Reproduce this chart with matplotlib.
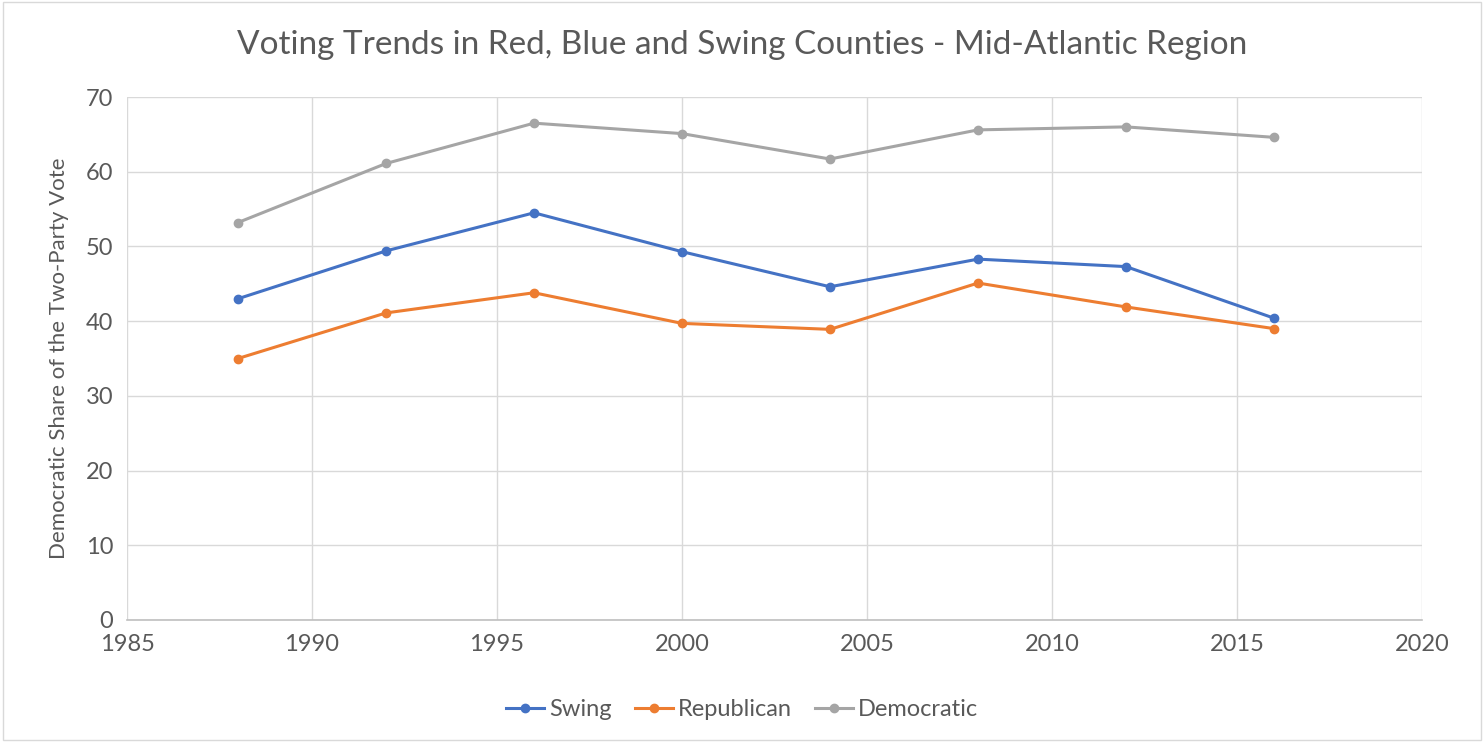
import matplotlib.pyplot as plt
from matplotlib.patches import Rectangle

# data
years = [1988, 1992, 1996, 2000, 2004, 2008, 2012, 2016]
swing = [43.0, 49.4, 54.5, 49.3, 44.6, 48.3, 47.3, 40.4]
republican = [35.0, 41.1, 43.8, 39.7, 38.9, 45.1, 41.9, 39.0]
democratic = [53.2, 61.1, 66.5, 65.1, 61.7, 65.6, 66.0, 64.6]

plt.rcParams['font.family'] = ['Lato', 'DejaVu Sans']

fig = plt.figure(figsize=(14.84, 7.42), dpi=100)
ax = fig.add_axes([127/1484, 1 - 620/742, (1422-127)/1484, (620-97)/742])

ax.plot(years, swing, color='#4472C4', lw=2.2, marker='o', ms=6, label='Swing')
ax.plot(years, republican, color='#ED7D31', lw=2.2, marker='o', ms=6, label='Republican')
ax.plot(years, democratic, color='#A5A5A5', lw=2.2, marker='o', ms=6, label='Democratic')

ax.set_xlim(1985, 2020)
ax.set_ylim(0, 70)
ax.set_xticks(range(1985, 2021, 5))
ax.set_yticks(range(0, 71, 10))
ax.grid(color='#D9D9D9', lw=1)
ax.set_axisbelow(True)
for s in ['top', 'right', 'left']:
    ax.spines[s].set_visible(False)
ax.spines['bottom'].set_color('#BFBFBF')
ax.spines['bottom'].set_linewidth(1.2)
ax.tick_params(length=0, labelsize=17, labelcolor='#595959', pad=10)

ax.set_ylabel('Democratic Share of the Two-Party Vote', fontsize=16, color='#595959', labelpad=12)
fig.text(0.5, 1 - 45/742, 'Voting Trends in Red, Blue and Swing Counties - Mid-Atlantic Region',
         ha='center', va='center', fontsize=24, color='#595959')

h, l = ax.get_legend_handles_labels()
fig.legend(h, l, loc='center', bbox_to_anchor=(0.5, 1 - 710/742), ncol=3, frameon=False,
           fontsize=17, labelcolor='#595959', handlelength=1.6, columnspacing=1.0, handletextpad=0.2)

fig.patches.append(Rectangle((0.002, 0.003), 0.996, 0.994, transform=fig.transFigure,
                             fill=False, edgecolor='#D9D9D9', lw=1))

fig.savefig('out.png', dpi=100)
